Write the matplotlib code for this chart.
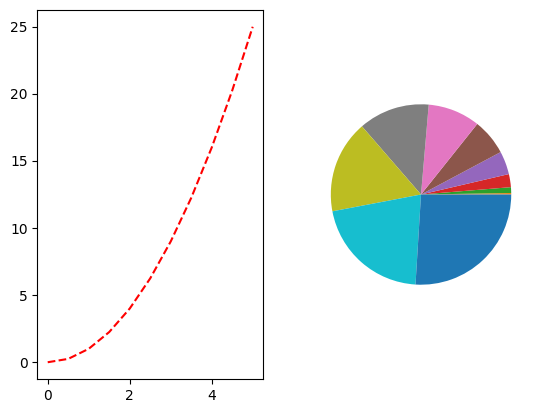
import matplotlib
matplotlib.use('Agg')
import matplotlib.pyplot as plt

# values
x_vals = [0, 0.5, 1, 1.5, 2, 2.5, 3, 3.5, 4, 4.5, 5]
y_vals = [0, 0.25, 1, 2.25, 4, 6.25, 9, 12.25, 16, 20.25, 25]

fig = plt.figure(figsize=(5.43, 4.13), dpi=100)

ax1 = fig.add_axes([0.069, 0.0823, 0.4153, 0.8935])
ax1.plot(x_vals, y_vals, 'r--')

ax2 = fig.add_axes([0.5677, 0.0823, 0.4153, 0.8935])
ax2.pie(y_vals)

fig.savefig('out.png', dpi=100)
